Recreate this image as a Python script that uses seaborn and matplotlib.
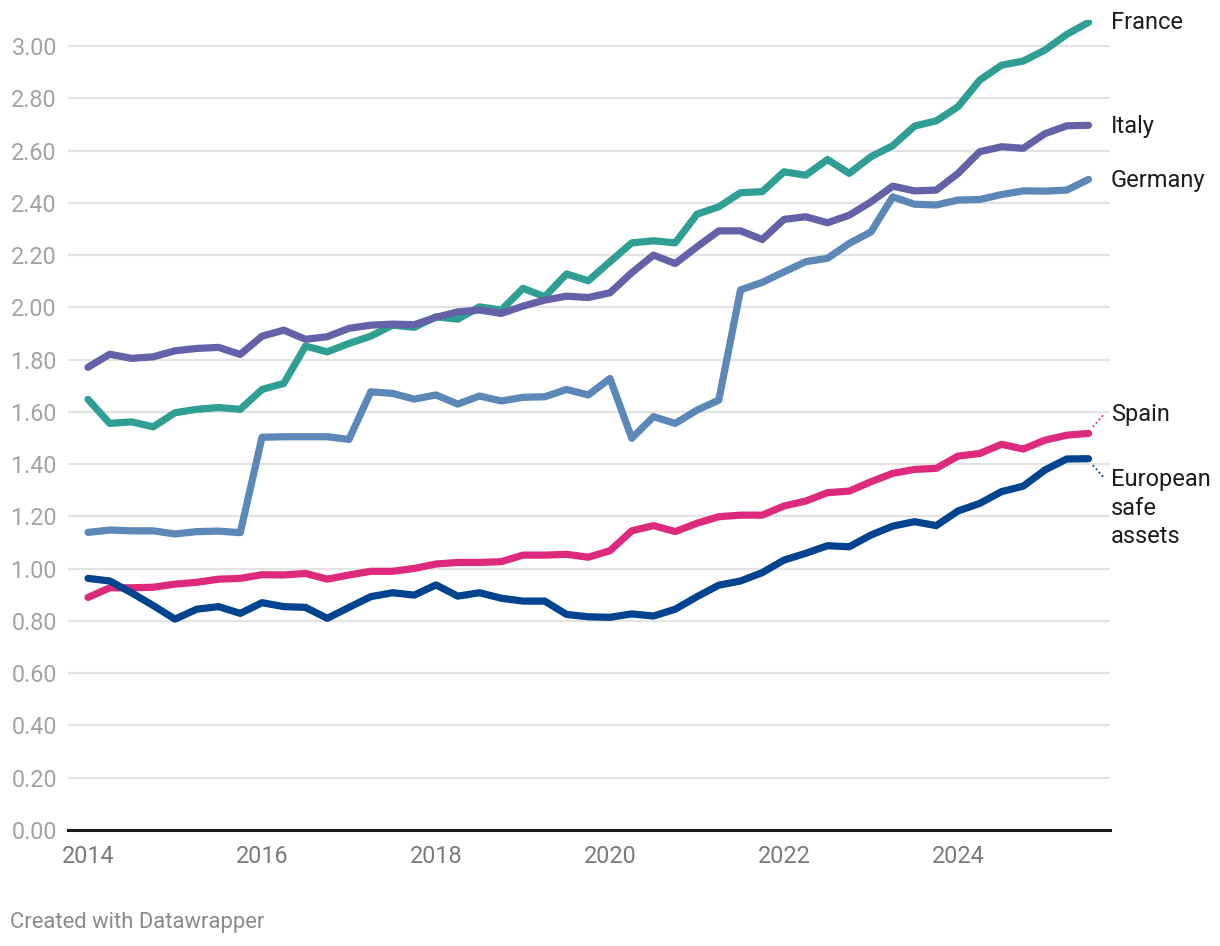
import numpy as np
import pandas as pd
import matplotlib
matplotlib.use("Agg")
import matplotlib.pyplot as plt
import matplotlib.transforms as mtransforms
import seaborn as sns

# quarterly observations, 2014 Q1 .. 2025 Q3
years = np.arange(47) / 4 + 2014

france = [1.648, 1.556, 1.562, 1.543, 1.597, 1.610, 1.617, 1.610, 1.686, 1.709,
          1.852, 1.830, 1.862, 1.890, 1.932, 1.924, 1.964, 1.955, 2.002, 1.990,
          2.073, 2.041, 2.128, 2.102, 2.175, 2.247, 2.255, 2.247, 2.357, 2.385,
          2.439, 2.443, 2.519, 2.506, 2.566, 2.513, 2.577, 2.619, 2.694, 2.714,
          2.768, 2.870, 2.927, 2.943, 2.985, 3.045, 3.091]
italy = [1.771, 1.821, 1.805, 1.811, 1.834, 1.843, 1.847, 1.820, 1.890, 1.913,
         1.878, 1.888, 1.920, 1.932, 1.936, 1.934, 1.962, 1.983, 1.990, 1.977,
         2.005, 2.028, 2.043, 2.038, 2.056, 2.133, 2.200, 2.168, 2.232, 2.293,
         2.293, 2.260, 2.337, 2.347, 2.324, 2.353, 2.404, 2.464, 2.446, 2.449,
         2.513, 2.596, 2.615, 2.609, 2.665, 2.695, 2.697]
germany = [1.139, 1.148, 1.145, 1.145, 1.133, 1.142, 1.144, 1.138, 1.503, 1.505,
           1.505, 1.505, 1.495, 1.677, 1.671, 1.649, 1.665, 1.630, 1.661, 1.642,
           1.656, 1.658, 1.686, 1.665, 1.728, 1.499, 1.582, 1.556, 1.607, 1.645,
           2.067, 2.096, 2.136, 2.175, 2.188, 2.245, 2.289, 2.423, 2.395, 2.392,
           2.411, 2.413, 2.432, 2.446, 2.445, 2.449, 2.490]
spain = [0.890, 0.927, 0.927, 0.929, 0.941, 0.948, 0.960, 0.963, 0.977, 0.976,
         0.982, 0.960, 0.976, 0.990, 0.990, 1.001, 1.018, 1.024, 1.024, 1.027,
         1.052, 1.052, 1.055, 1.044, 1.069, 1.145, 1.165, 1.142, 1.174, 1.199,
         1.205, 1.205, 1.240, 1.259, 1.291, 1.297, 1.333, 1.365, 1.380, 1.384,
         1.431, 1.441, 1.476, 1.458, 1.492, 1.511, 1.518]
safe_assets = [0.963, 0.953, 0.908, 0.859, 0.807, 0.845, 0.855, 0.829, 0.870, 0.855,
               0.852, 0.810, 0.852, 0.893, 0.908, 0.899, 0.938, 0.895, 0.908, 0.887,
               0.876, 0.876, 0.825, 0.816, 0.814, 0.827, 0.819, 0.845, 0.893, 0.937,
               0.953, 0.985, 1.033, 1.059, 1.088, 1.084, 1.129, 1.163, 1.180, 1.165,
               1.221, 1.250, 1.295, 1.316, 1.378, 1.420, 1.421]

series_names = ["France", "Italy", "Germany", "Spain", "European safe assets"]
series_labels = ["France", "Italy", "Germany", "Spain", "European\nsafe\nassets"]
label_y = [3.09, 2.694, 2.487, 1.592, 1.232]
colors = ["#2f9e93", "#6461a8", "#5b88b6", "#dd2a7d", "#00448f"]
yticks = np.arange(0, 3.01, 0.2)
xticks = [2014, 2016, 2018, 2020, 2022, 2024]

df = pd.DataFrame({"year": years, "France": france, "Italy": italy,
                   "Germany": germany, "Spain": spain,
                   "European safe assets": safe_assets})
long_df = df.melt(id_vars="year", var_name="series", value_name="value")

sns.set_style("white")
plt.rcParams["font.family"] = ["Roboto", "DejaVu Sans"]

fig = plt.figure(figsize=(12.2, 9.46), dpi=100)
ax = fig.add_axes([68 / 1220, 116 / 946, 1042 / 1220, 810 / 946])

sns.lineplot(data=long_df, x="year", y="value", hue="series",
             hue_order=series_names, palette=colors, linewidth=5.2,
             solid_capstyle="round", solid_joinstyle="round",
             legend=False, ax=ax, zorder=3)

ax.set_xlim(2013.77, 2025.747)
ax.set_ylim(0, 3.1)
ax.set_yticks(yticks)
ax.set_yticklabels([f"{v:.2f}" for v in yticks])
ax.set_xticks(xticks)
ax.set_xticklabels([str(x) for x in xticks])
ax.grid(axis="y", color="#e3e3e3", linewidth=1.6, zorder=0)
ax.set_axisbelow(True)
for s in ["top", "right", "left"]:
    ax.spines[s].set_visible(False)
ax.spines["bottom"].set_color("#1a1a1a")
ax.spines["bottom"].set_linewidth(2.2)
ax.spines["bottom"].set_zorder(4)
ax.tick_params(axis="y", length=0, pad=8, labelsize=16.8, labelcolor="#a3a3a3")
ax.tick_params(axis="x", length=0, pad=11, labelsize=16.8, labelcolor="#7a7a7a")
ax.set_xlabel("")
ax.set_ylabel("")

# direct labels at the right end of each line
trans = mtransforms.blended_transform_factory(ax.transAxes, ax.transData)
for name, lab, ly, col in zip(series_names, series_labels, label_y, colors):
    ax.text(1.001, ly, lab, transform=trans, ha="left", va="center",
            fontsize=17, color="#1d1d1d", linespacing=1.3, clip_on=False)

# dotted leader lines for Spain and European safe assets
for name, ly, col in zip(series_names[3:], label_y[3:], colors[3:]):
    end_val = df[name].iloc[-1]
    x0 = years[-1] + 0.05
    x1 = years[-1] + 0.17
    y0 = end_val + (0.025 if ly > end_val else -0.025)
    y1 = end_val + (0.07 if ly > end_val else -0.07)
    ax.plot([x0, x1], [y0, y1], color=col, linestyle=(0, (1, 1.5)),
            linewidth=1.3, clip_on=False)

fig.text(10 / 1220, 1 - 922 / 946, "Created with Datawrapper", ha="left",
         va="center", fontsize=15.8, color="#8a8a8a")

fig.savefig("out.png", dpi=100, facecolor="white")
